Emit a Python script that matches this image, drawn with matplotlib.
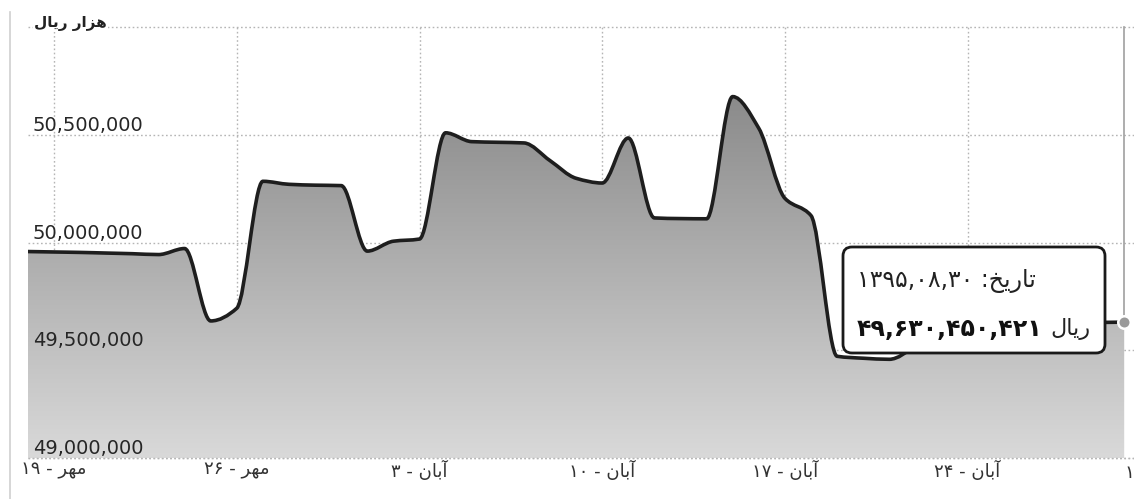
import re
import numpy as np
import matplotlib
matplotlib.use("Agg")
import matplotlib.pyplot as plt
from matplotlib.path import Path
from matplotlib.patches import PathPatch, FancyBboxPatch
from matplotlib.lines import Line2D
from matplotlib.colors import LinearSegmentedColormap
from matplotlib.transforms import IdentityTransform, blended_transform_factory

# ---------------- data (thousand rials) ----------------
dates = ["1395/07/18", "1395/07/19", "1395/07/20", "1395/07/21", "1395/07/22",
         "1395/07/23", "1395/07/24", "1395/07/25", "1395/07/26", "1395/07/27",
         "1395/07/28", "1395/07/29", "1395/07/30", "1395/08/01", "1395/08/02",
         "1395/08/03", "1395/08/04", "1395/08/05", "1395/08/06", "1395/08/07",
         "1395/08/08", "1395/08/09", "1395/08/10", "1395/08/11", "1395/08/12",
         "1395/08/13", "1395/08/14", "1395/08/15", "1395/08/16", "1395/08/17",
         "1395/08/18", "1395/08/19", "1395/08/20", "1395/08/21", "1395/08/22",
         "1395/08/23", "1395/08/24", "1395/08/25", "1395/08/26", "1395/08/27",
         "1395/08/28", "1395/08/29", "1395/08/30"]
values = [49958000, 49956000, 49954000, 49951000, 49948000,
          49944000, 49972000, 49636000, 49695000, 50284000,
          50270000, 50266000, 50264000, 49960000, 50006000,
          50016000, 50509000, 50468000, 50465000, 50462000,
          50380000, 50298000, 50276000, 50485000, 50114000,
          50111000, 50110000, 50677000, 50530000, 50205000,
          50125000, 49472000, 49463000, 49458000, 49519000,
          49620000, 49624000, 49625000, 49626000, 49627000,
          49628000, 49629000, 49630450]

tick_dates = ["1395/07/19", "1395/07/26", "1395/08/03", "1395/08/10",
              "1395/08/17", "1395/08/24", "1395/09/01"]
tick_labels = ["مهر - ۱۹", "مهر - ۲۶", "آبان - ۳", "آبان - ۱۰",
               "آبان - ۱۷", "آبان - ۲۴", "آذر - ۱"]
y_ticks = [49000000, 49500000, 50000000, 50500000, 51000000]
y_tick_labels = ["49,000,000", "49,500,000", "50,000,000", "50,500,000"]
y_title = "هزار ریال"
tooltip_date_line = "تاریخ: ۱۳۹۵,۰۸,۳۰"
tooltip_value = "۴۹,۶۳۰,۴۵۰,۴۲۱"
tooltip_unit = "ریال"

# ---------------- helpers ----------------
def day_index(s):
    _, m, d = s.split("/")
    m, d = int(m), int(d)
    return (m - 7) * 30 + d - 19   # days since 1395/07/19 (months 7-9 have 30 days)

FORMS = {
    '\u0627': ('\uFE8D', '\uFE8E', None, None),
    '\u0622': ('\uFE81', '\uFE82', None, None),
    '\u0628': ('\uFE8F', '\uFE90', '\uFE91', '\uFE92'),
    '\u062A': ('\uFE95', '\uFE96', '\uFE97', '\uFE98'),
    '\u062E': ('\uFEA5', '\uFEA6', '\uFEA7', '\uFEA8'),
    '\u0630': ('\uFEAB', '\uFEAC', None, None),
    '\u0631': ('\uFEAD', '\uFEAE', None, None),
    '\u0632': ('\uFEAF', '\uFEB0', None, None),
    '\u0644': ('\uFEDD', '\uFEDE', '\uFEDF', '\uFEE0'),
    '\u0645': ('\uFEE1', '\uFEE2', '\uFEE3', '\uFEE4'),
    '\u0646': ('\uFEE5', '\uFEE6', '\uFEE7', '\uFEE8'),
    '\u0647': ('\uFEE9', '\uFEEA', '\uFEEB', '\uFEEC'),
    '\u06CC': ('\uFBFC', '\uFBFD', '\uFEF3', '\uFEF4'),
}

def shape_word(w):
    out = []
    for i, ch in enumerate(w):
        f = FORMS[ch]
        prev_ok = i > 0 and FORMS[w[i - 1]][2] is not None
        next_ok = i < len(w) - 1 and f[2] is not None
        if prev_ok and next_ok:
            out.append(f[3])
        elif prev_ok:
            out.append(f[1])
        elif next_ok:
            out.append(f[2])
        else:
            out.append(f[0])
    return "".join(out)

def visual(s):
    arabic = "".join(FORMS.keys())
    tokens = re.findall(r"[%s]+|[\u06F0-\u06F90-9][\u06F0-\u06F90-9,]*|." % arabic, s)
    res = []
    for t in reversed(tokens):
        if t[0] in FORMS:
            res.append(shape_word(t)[::-1])
        else:
            res.append(t)
    return "".join(res)

def pchip_path(x, y):
    x = np.asarray(x, float); y = np.asarray(y, float)
    h = np.diff(x); d = np.diff(y) / h
    m = np.zeros_like(y)
    for k in range(1, len(y) - 1):
        if d[k - 1] * d[k] > 0:
            m[k] = 2.0 / (1.0 / d[k - 1] + 1.0 / d[k])
    m[0] = d[0]; m[-1] = d[-1]
    verts = [(x[0], y[0])]; codes = [Path.MOVETO]
    for i in range(len(x) - 1):
        verts += [(x[i] + h[i] / 3, y[i] + m[i] * h[i] / 3),
                  (x[i + 1] - h[i] / 3, y[i + 1] - m[i + 1] * h[i] / 3),
                  (x[i + 1], y[i + 1])]
        codes += [Path.CURVE4] * 3
    return verts, codes

# ---------------- figure ----------------
plt.rcParams['font.family'] = ['DejaVu Sans']
W, H = 1134, 499
fig = plt.figure(figsize=(W / 100, H / 100), dpi=100)
fig.patch.set_facecolor("white")
ax_l, ax_r, ax_t, ax_b = 28, 1134, 27, 458
ax = fig.add_axes([ax_l / W, 1 - ax_b / H, (ax_r - ax_l) / W, (ax_b - ax_t) / H])

xs = [day_index(s) for s in dates]
x0 = xs[0]
px_per_day = 26.1
x1 = x0 + (ax_r - ax_l) / px_per_day
ymin, ymax = y_ticks[0], y_ticks[-1]
ax.set_xlim(x0, x1)
ax.set_ylim(ymin, ymax)
for s in ax.spines.values():
    s.set_visible(False)
ax.set_xticks([]); ax.set_yticks([])

grid_kw = dict(color="#b5b5b5", lw=1.0, linestyle=(0, (1.2, 1.8)), zorder=1)
for v in y_ticks:
    ax.axhline(v, clip_on=False, **grid_kw)
tick_x = [day_index(s) for s in tick_dates]
for tx in tick_x:
    if tx <= x1:
        ax.axvline(tx, **grid_kw)

# area + line
verts, codes = pchip_path(xs, values)
fill_verts = verts + [(xs[-1], ymin), (xs[0], ymin), (xs[0], values[0])]
fill_codes = codes + [Path.LINETO, Path.LINETO, Path.CLOSEPOLY]
fill_patch = PathPatch(Path(fill_verts, fill_codes), facecolor="none", edgecolor="none")
ax.add_patch(fill_patch)
cmap = LinearSegmentedColormap.from_list("g", ["#d9d9d9", "#7c7c7c"])
grad = np.linspace(0, 1, 256).reshape(-1, 1)
im = ax.imshow(grad, extent=[x0, x1, ymin, ymax], origin="lower", aspect="auto",
               cmap=cmap, zorder=2, interpolation="bilinear")
im.set_clip_path(fill_patch)
ax.axhline(ymin, clip_on=False, **dict(grid_kw, zorder=3))
line_patch = PathPatch(Path(verts, codes), facecolor="none", edgecolor="#1e1e1e",
                       lw=2.6, zorder=4, capstyle="round", joinstyle="round")
ax.add_patch(line_patch)

# crosshair + marker
ax.plot([xs[-1], xs[-1]], [values[-1], ymax], color="#a0a0a0", lw=1.2, zorder=3,
        clip_on=False)
ax.plot([xs[-1]], [values[-1]], "o", ms=9, mfc="#9a9a9a", mec="white", mew=1.8,
        zorder=6, clip_on=False)

# y tick labels (inside, above grid)
for v, lab in zip(y_ticks, y_tick_labels):
    ax.annotate(lab, xy=(x0, v), xytext=(5, 4), textcoords="offset pixels",
                ha="left", va="baseline", fontsize=14, color="#262626", zorder=5)

# x tick labels
trans = blended_transform_factory(ax.transData, ax.transAxes)
for tx, lab in zip(tick_x, tick_labels):
    ax.text(tx, -0.006, visual(lab), transform=trans, ha="center", va="top",
            fontsize=13, color="#333333", clip_on=False)

# y title
ax.text(x0 + 6 / px_per_day, ymax, visual(y_title), ha="left", va="baseline",
        fontsize=11, fontweight="bold", color="#222222", zorder=5,
        bbox=dict(facecolor="white", edgecolor="none", pad=1.0))

# left container border
fig.add_artist(Line2D([9.5 / W, 9.5 / W], [0, 1 - 12 / H], color="#cfcfcf", lw=1.2))

# tooltip
bx0, bx1, by0, by1 = 843, 1105, 247, 353
box = FancyBboxPatch((bx0, H - by1), bx1 - bx0, by1 - by0,
                     boxstyle="round,pad=0,rounding_size=9",
                     transform=IdentityTransform(), facecolor="white",
                     edgecolor="#1a1a1a", lw=2.0, zorder=10)
fig.add_artist(box)
fig.text(857 / W, 1 - 281 / H, visual(tooltip_date_line), ha="left", va="center",
         fontsize=17, color="#222222", zorder=11)
fig.text(857 / W, 1 - 329 / H, visual(tooltip_value), ha="left", va="center",
         fontsize=17, fontweight="bold", color="#111111", zorder=11)
fig.text(1091 / W, 1 - 329 / H, visual(tooltip_unit), ha="right", va="center",
         fontsize=16, color="#222222", zorder=11)

fig.savefig("out.png", dpi=100, facecolor="white")
